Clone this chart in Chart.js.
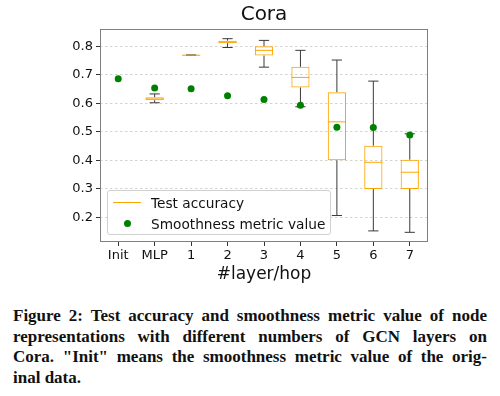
<!DOCTYPE html>
<html>
<head>
<meta charset="utf-8">
<script src="https://cdn.jsdelivr.net/npm/chart.js@4.4.0/dist/chart.umd.min.js"></script>
<style>
  body { margin: 0; background: #fff; }
  #wrap { position: relative; width: 500px; height: 396px; overflow: hidden; }
  #chart { position: absolute; left: 0; top: 0; }
  .legend {
    position: absolute; left: 107px; top: 190px; width: 222px; height: 43px;
    border: 1px solid #d0d0d0; border-radius: 3px; background: rgba(255,255,255,0.85);
    font: 13.7px "DejaVu Sans", sans-serif; color: #111;
  }
  .legend .row { position: absolute; left: 0; height: 16px; line-height: 16px; }
  .legend .row span.txt { position: absolute; left: 43px; white-space: nowrap; }
  .legend .swLine { position: absolute; left: 5px; top: 7px; width: 28px; height: 1px; background: orange; }
  .legend .swDot { position: absolute; left: 16px; top: 4px; width: 7px; height: 7px; border-radius: 50%; background: green; }
  .caption {
    position: absolute; left: 13px; top: 306px; width: 474px;
    font: bold 17px "Liberation Serif", serif; color: #111; line-height: 20.5px;
  }
  .caption div { text-align: justify; text-align-last: justify; white-space: nowrap; }
  .caption div.last { text-align: left; text-align-last: left; }
</style>
</head>
<body>
<div id="wrap">
  <canvas id="chart" width="500" height="290"></canvas>
  <div class="legend">
    <div class="row" style="top:4px"><div class="swLine"></div><span class="txt">Test accuracy</span></div>
    <div class="row" style="top:25px"><div class="swDot"></div><span class="txt">Smoothness metric value</span></div>
  </div>
  <div class="caption">
    <div>Figure 2: Test accuracy and smoothness metric value of node</div>
    <div>representations with different numbers of GCN layers on</div>
    <div>Cora. "Init" means the smoothness metric value of the orig-</div>
    <div class="last">inal data.</div>
  </div>
</div>
<script>
// categories on the x axis
const layers = ['Init', 'MLP', '1', '2', '3', '4', '5', '6', '7'];

// test accuracy box plot stats (null = no box)
const whiskerLow  = [null, 0.602, 0.768, 0.796, 0.727, 0.588, 0.206, 0.152, 0.147];
const q1          = [null, 0.611, 0.768, 0.811, 0.768, 0.656, 0.400, 0.299, 0.299];
const median      = [null, 0.615, 0.769, 0.815, 0.786, 0.691, 0.535, 0.393, 0.358];
const q3          = [null, 0.621, 0.770, 0.820, 0.800, 0.728, 0.639, 0.451, 0.402];
const whiskerHigh = [null, 0.633, 0.770, 0.827, 0.821, 0.786, 0.752, 0.678, 0.493];

// smoothness metric value
const smoothness = [0.686, 0.654, 0.651, 0.627, 0.613, 0.593, 0.516, 0.515, 0.489];

// y axis ticks
const yTicks = [0.2, 0.3, 0.4, 0.5, 0.6, 0.7, 0.8];
const yTickLabels = ['0.2', '0.3', '0.4', '0.5', '0.6', '0.7', '0.8'];

Chart.defaults.font.family = '"DejaVu Sans", sans-serif';
Chart.defaults.color = '#111';

// whiskers, caps, frame (below) and medians (over the boxes)
const boxPlugin = {
  id: 'boxPlugin',
  beforeDatasetsDraw(chart) {
    const { ctx, chartArea, scales: { x, y } } = chart;
    ctx.save();
    ctx.strokeStyle = '#808080';
    ctx.lineWidth = 1;
    ctx.strokeRect(chartArea.left + 0.5, chartArea.top + 0.5,
      chartArea.right - chartArea.left - 1, chartArea.bottom - chartArea.top - 1);

    const band = x.getPixelForValue(1) - x.getPixelForValue(0);
    const capHalf = band * 0.14;
    ctx.strokeStyle = '#3a3a3a';
    layers.forEach((_, i) => {
      if (q1[i] == null) return;
      const cx = x.getPixelForValue(i);
      const yl = y.getPixelForValue(whiskerLow[i]);
      const yh = y.getPixelForValue(whiskerHigh[i]);
      ctx.beginPath();
      ctx.moveTo(cx, yl);
      ctx.lineTo(cx, y.getPixelForValue(q1[i]));
      ctx.moveTo(cx, y.getPixelForValue(q3[i]));
      ctx.lineTo(cx, yh);
      ctx.moveTo(cx - capHalf, yl);
      ctx.lineTo(cx + capHalf, yl);
      ctx.moveTo(cx - capHalf, yh);
      ctx.lineTo(cx + capHalf, yh);
      ctx.stroke();
    });
    ctx.restore();
  },
  afterDatasetDraw(chart, args) {
    if (args.index !== 0) return;
    const { ctx, scales: { y } } = chart;
    const meta = chart.getDatasetMeta(0);
    ctx.save();
    ctx.strokeStyle = 'orange';
    ctx.lineWidth = 1;
    meta.data.forEach((bar, i) => {
      if (median[i] == null) return;
      const my = y.getPixelForValue(median[i]);
      ctx.beginPath();
      ctx.moveTo(bar.x - bar.width / 2, my);
      ctx.lineTo(bar.x + bar.width / 2, my);
      ctx.stroke();
    });
    ctx.restore();
  }
};

new Chart(document.getElementById('chart'), {
  type: 'bar',
  data: {
    labels: layers,
    datasets: [
      {
        label: 'Test accuracy',
        data: q1.map((v, i) => v == null ? null : [q1[i], q3[i]]),
        backgroundColor: 'rgba(255,255,255,0)',
        borderColor: 'orange',
        borderWidth: 1,
        borderSkipped: false,
        barPercentage: 0.5,
        categoryPercentage: 1,
        order: 1
      },
      {
        type: 'line',
        label: 'Smoothness metric value',
        data: smoothness,
        showLine: false,
        pointRadius: 3.5,
        pointBackgroundColor: 'green',
        pointBorderWidth: 0,
        order: 0
      }
    ]
  },
  options: {
    responsive: false,
    animation: false,
    layout: { padding: { left: 0, right: 72, top: 0, bottom: 0 } },
    plugins: {
      legend: { display: false },
      tooltip: { enabled: false },
      title: {
        display: true,
        text: 'Cora',
        fullSize: false,
        color: '#111',
        font: { size: 20, weight: 'normal' },
        padding: { top: 3, bottom: 2 }
      }
    },
    scales: {
      x: {
        type: 'category',
        afterFit: s => { s.height = 48; },
        grid: { display: true, drawOnChartArea: false, drawTicks: true, tickLength: 4, tickColor: '#333', offset: false },
        border: { display: false },
        ticks: { font: { size: 13 }, padding: 2, color: '#111' },
        title: { display: true, text: '#layer/hop', font: { size: 17 }, color: '#111', padding: { top: 0, bottom: 5 } }
      },
      y: {
        min: 0.113,
        max: 0.861,
        afterFit: s => { s.width = 100; },
        afterBuildTicks: s => { s.ticks = yTicks.map(v => ({ value: v })); },
        grid: { color: '#c8c8c8', lineWidth: 0.8, tickLength: 4, tickColor: '#333', tickWidth: 1 },
        border: { display: false, dash: [2.5, 2.5] },
        ticks: { font: { size: 13 }, padding: 3, color: '#111', callback: (v, i) => yTickLabels[i] }
      }
    }
  },
  plugins: [boxPlugin]
});
</script>
</body>
</html>
